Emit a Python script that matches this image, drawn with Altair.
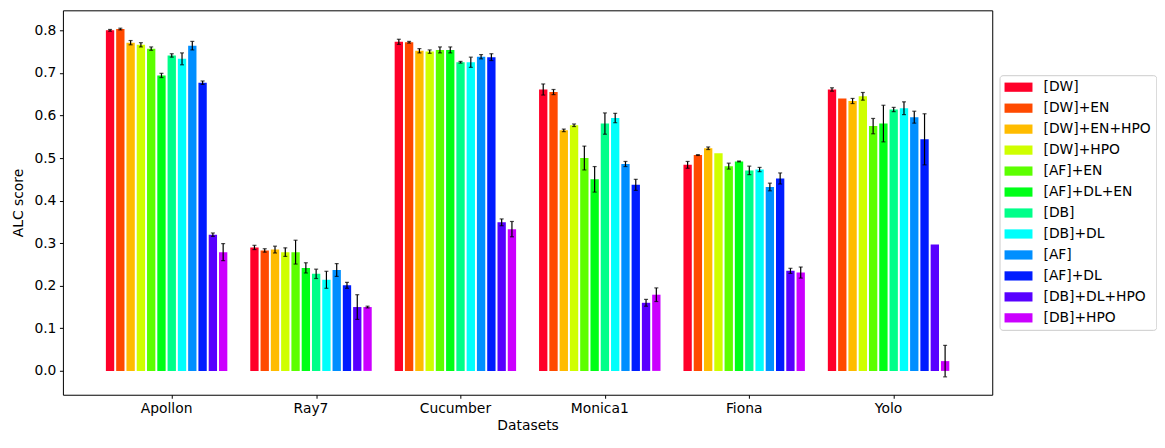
import altair as alt
import pandas as pd

datasets = ["Apollon", "Ray7", "Cucumber", "Monica1", "Fiona", "Yolo"]
methods = ["[DW]", "[DW]+EN", "[DW]+EN+HPO", "[DW]+HPO", "[AF]+EN", "[AF]+DL+EN",
           "[DB]", "[DB]+DL", "[AF]", "[AF]+DL", "[DB]+DL+HPO", "[DB]+HPO"]
colors = ["#ff0029", "#ff4a00", "#ffbc00", "#cfff00", "#5cff00", "#00ff17",
          "#00ff89", "#00fffb", "#008fff", "#001cff", "#5800ff", "#cb00ff"]

# mean ALC score per dataset (rows follow `methods` order)
apollon = [0.800, 0.803, 0.771, 0.766, 0.757, 0.694, 0.741, 0.733, 0.764, 0.677, 0.320, 0.279]
ray7 = [0.290, 0.283, 0.285, 0.279, 0.279, 0.242, 0.228, 0.214, 0.237, 0.201, 0.150, 0.150]
cucumber = [0.773, 0.772, 0.752, 0.750, 0.754, 0.754, 0.725, 0.725, 0.738, 0.737, 0.349, 0.333]
monica1 = [0.661, 0.655, 0.565, 0.577, 0.500, 0.450, 0.581, 0.594, 0.486, 0.437, 0.160, 0.179]
fiona = [0.484, 0.507, 0.523, 0.511, 0.481, 0.492, 0.471, 0.473, 0.432, 0.452, 0.235, 0.231]
yolo = [0.661, 0.640, 0.634, 0.645, 0.575, 0.581, 0.614, 0.617, 0.596, 0.544, 0.297, 0.023]

# error (half-length of error bar)
apollon_err = [0.002, 0.002, 0.005, 0.005, 0.004, 0.005, 0.004, 0.014, 0.010, 0.004, 0.004, 0.020]
ray7_err = [0.005, 0.004, 0.008, 0.010, 0.028, 0.012, 0.011, 0.020, 0.015, 0.007, 0.029, 0.002]
cucumber_err = [0.006, 0.002, 0.005, 0.004, 0.007, 0.007, 0.002, 0.012, 0.005, 0.008, 0.008, 0.018]
monica1_err = [0.013, 0.006, 0.003, 0.003, 0.028, 0.030, 0.025, 0.011, 0.006, 0.013, 0.008, 0.016]
fiona_err = [0.008, 0.001, 0.003, 0.0, 0.007, 0.001, 0.010, 0.005, 0.009, 0.013, 0.006, 0.013]
yolo_err = [0.004, 0.0, 0.006, 0.009, 0.018, 0.043, 0.005, 0.015, 0.014, 0.060, 0.0, 0.037]

values = [apollon, ray7, cucumber, monica1, fiona, yolo]
errors = [apollon_err, ray7_err, cucumber_err, monica1_err, fiona_err, yolo_err]

rows = []
for d, vals, errs in zip(datasets, values, errors):
    for m, v, e in zip(methods, vals, errs):
        rows.append({"Dataset": d, "Method": m, "score": v, "err": e,
                     "lo": v - e, "hi": v + e})
df = pd.DataFrame(rows)

FONT = "DejaVu Sans"
FS = 13.9

x_enc = alt.X("Dataset:N", sort=datasets, title="Datasets",
              scale=alt.Scale(paddingInner=0.159, paddingOuter=0.2976),
              axis=alt.Axis(labelAngle=0, bandPosition=0.547, ticks=True, tickSize=3.5,
                            tickColor="black", domain=False, labelFontSize=FS,
                            titleFontSize=FS, titleFontWeight="normal",
                            labelColor="black", titleColor="black",
                            labelPadding=3.5, titlePadding=3, grid=False))
xoff_enc = alt.XOffset("Method:N", sort=methods,
                       scale=alt.Scale(paddingInner=0.19, paddingOuter=0))

bars = alt.Chart(df).mark_bar().encode(
    x=x_enc,
    xOffset=xoff_enc,
    y=alt.Y("score:Q", title="ALC score",
            scale=alt.Scale(domain=[-0.056, 0.847], nice=False, zero=False),
            axis=alt.Axis(values=[0, 0.1, 0.2, 0.3, 0.4, 0.5, 0.6, 0.7, 0.8], format=".1f",
                          tickSize=3.5, tickColor="black", domain=False, grid=False,
                          labelFontSize=FS, titleFontSize=FS, titleFontWeight="normal",
                          labelColor="black", titleColor="black",
                          labelPadding=3.5, titlePadding=8)),
    y2=alt.datum(0),
    color=alt.Color("Method:N", sort=methods,
                    scale=alt.Scale(domain=methods, range=colors),
                    legend=alt.Legend(title=None, orient="none", legendX=938, legendY=65,
                                      symbolType="M-1,-0.66 L3,-0.66 L3,0.66 L-1,0.66 Z",
                                      symbolSize=196, symbolStrokeWidth=0,
                                      labelFontSize=FS, labelColor="black", labelOffset=25,
                                      rowPadding=7, padding=5, strokeColor="#cccccc",
                                      cornerRadius=3, fillColor="white")),
)

err_df_filter = alt.datum.err > 0

rules = alt.Chart(df).transform_filter(err_df_filter).mark_rule(
    color="black", strokeWidth=1.2).encode(
    x=x_enc, xOffset=xoff_enc, y="lo:Q", y2="hi:Q")

caps_lo = alt.Chart(df).transform_filter(err_df_filter).mark_tick(
    color="black", thickness=1.2, size=4, orient="horizontal").encode(
    x=x_enc, xOffset=xoff_enc, y="lo:Q")
caps_hi = alt.Chart(df).transform_filter(err_df_filter).mark_tick(
    color="black", thickness=1.2, size=4, orient="horizontal").encode(
    x=x_enc, xOffset=xoff_enc, y="hi:Q")

chart = alt.layer(bars, rules, caps_lo, caps_hi).properties(
    width=930.7, height=385,
    padding={"left": 3, "top": 2, "right": 0, "bottom": 5},
).configure(font=FONT).configure_view(stroke="black", strokeWidth=1)

chart.save("out.html", embed_options={"renderer": "svg", "actions": False})
